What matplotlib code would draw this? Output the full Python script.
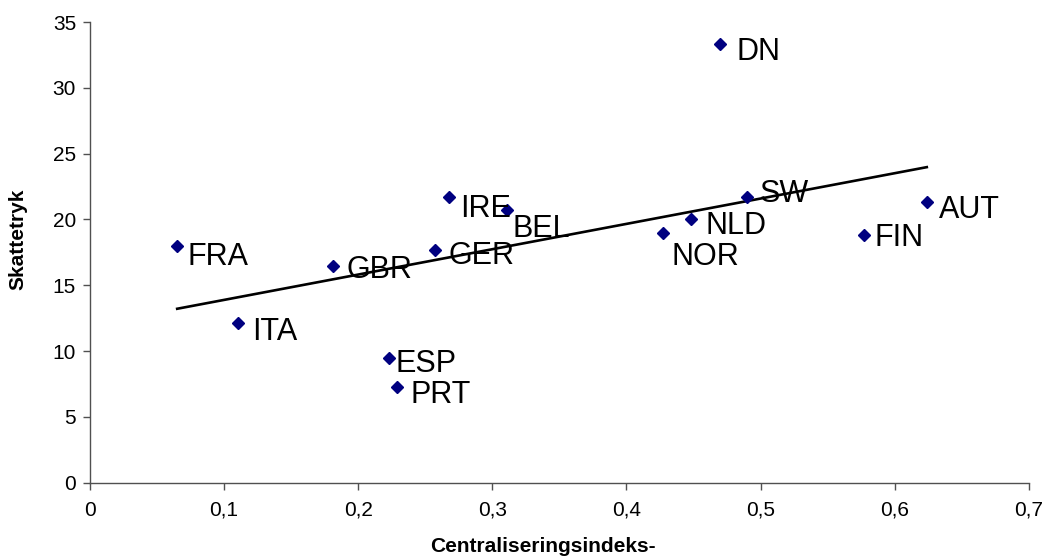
import numpy as np
import matplotlib
matplotlib.use("Agg")
import matplotlib.pyplot as plt
from matplotlib.ticker import FuncFormatter, MultipleLocator

countries = ["FRA", "GBR", "GER", "IRE", "BEL", "DN", "SW", "NLD", "NOR",
             "AUT", "FIN", "ITA", "ESP", "PRT"]
central_index = [0.065, 0.181, 0.257, 0.268, 0.311, 0.470, 0.490, 0.448, 0.427,
                 0.624, 0.577, 0.110, 0.223, 0.229]
tax_pressure = [18.0, 16.5, 17.7, 21.7, 20.7, 33.3, 21.7, 20.0, 19.0,
                21.3, 18.8, 12.1, 9.5, 7.3]

# label offsets in pixels (dx right, dy down) relative to the marker
label_offsets = {
    "FRA": (10, 11.5), "GBR": (14, 4.5), "GER": (13.6, 6.7), "IRE": (10.6, 11.4),
    "BEL": (5, 18.5), "DN": (16, 7.4), "SW": (13, -2.7), "NLD": (15, 6.7),
    "NOR": (9, 24.7), "AUT": (12, 7.5), "FIN": (10.7, 3), "ITA": (14.4, 9),
    "ESP": (6.3, 6), "PRT": (13.3, 8),
}

plt.rcParams['font.family'] = ['Liberation Sans', 'DejaVu Sans']
DPI = 100
fig = plt.figure(figsize=(10.43, 5.59), dpi=DPI)
ax = fig.add_axes([0.0863, 0.1365, 0.9, 0.824])

x = np.array(central_index)
y = np.array(tax_pressure)

ax.plot(x, y, linestyle='none', marker='D', markersize=6.5,
        color='#000080', zorder=3)

# linear trendline
slope, intercept = np.polyfit(x, y, 1)
xs = np.array([x.min(), x.max()])
ax.plot(xs, slope * xs + intercept, color='black', lw=1.9, zorder=2)

pt = 72.0 / DPI
for name, xi, yi in zip(countries, x, y):
    dx, dy = label_offsets[name]
    ax.annotate(name, (xi, yi), xytext=(dx * pt, -dy * pt),
                textcoords='offset points', ha='left', va='center',
                fontsize=22, color='black', zorder=4)

ax.set_xlim(0, 0.7)
ax.set_ylim(0, 35)
ax.xaxis.set_major_locator(MultipleLocator(0.1))
ax.yaxis.set_major_locator(MultipleLocator(5))

def comma_fmt(v, pos):
    s = f"{v:.1f}".rstrip('0').rstrip('.')
    return s.replace('.', ',')

ax.xaxis.set_major_formatter(FuncFormatter(comma_fmt))
ax.yaxis.set_major_formatter(FuncFormatter(lambda v, p: f"{v:.0f}"))

for side in ['top', 'right']:
    ax.spines[side].set_visible(False)
for side in ['left', 'bottom']:
    ax.spines[side].set_color('#505050')
    ax.spines[side].set_linewidth(1.0)

ax.tick_params(axis='both', direction='out', length=5, width=1,
               color='#505050', labelsize=15, labelcolor='black')
ax.tick_params(axis='x', pad=8)
ax.tick_params(axis='y', pad=5)

ax.set_xlabel('Centraliseringsindeks-', fontsize=15, fontweight='bold')
ax.set_ylabel('Skattetryk', fontsize=15, fontweight='bold')
ax.xaxis.set_label_coords(0.483, -0.118)
ax.yaxis.set_label_coords(-0.067, 0.529)

fig.savefig('out.png', dpi=DPI)
